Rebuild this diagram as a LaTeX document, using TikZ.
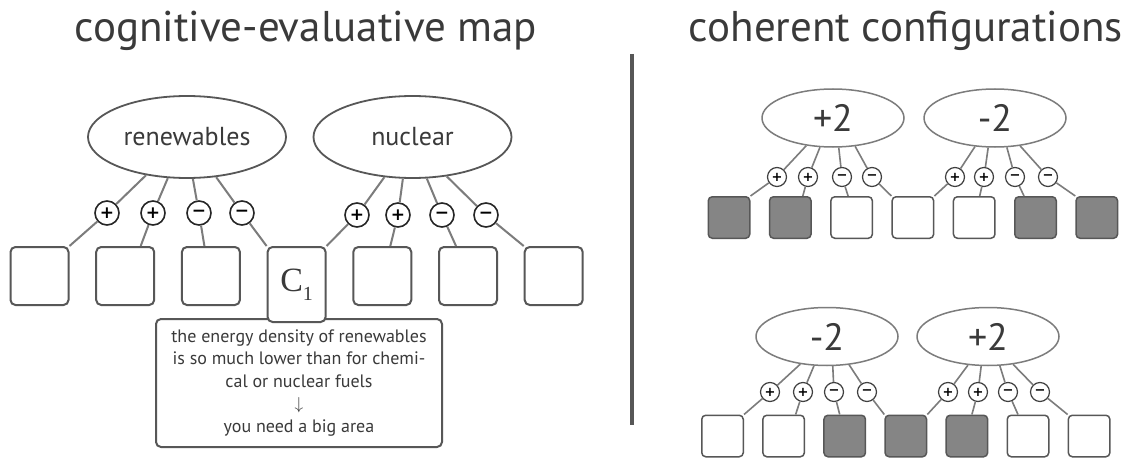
\documentclass[tikz,border=0pt]{standalone}
\usepackage{fontspec}
\setmainfont{PT Sans}
\newfontfamily\signfont{DejaVu Sans}
\newfontfamily\labelfont{Liberation Serif}
\usetikzlibrary{positioning,shapes.geometric}
\definecolor{inkgray}{HTML}{3A3A3A}
\definecolor{edgegray}{HTML}{575757}
\definecolor{linkgray}{HTML}{7C7C7C}
\definecolor{fillgray}{HTML}{858585}
\tikzstyle{MapTitle}=[text=inkgray, font=\fontsize{43}{47}\selectfont]
\tikzstyle{Divider}=[draw=edgegray, line width=3.5pt]
\tikzstyle{Concept}=[ellipse, draw=edgegray, line width=1.8pt, minimum width=198pt, minimum height=82pt, text=inkgray, font=\fontsize{26}{30}\selectfont]
\tikzstyle{ConfConcept}=[ellipse, draw=linkgray, line width=1.5pt, minimum width=142pt, minimum height=58pt, text=inkgray, font=\fontsize{38}{40}\selectfont]
\tikzstyle{Belief}=[rectangle, rounded corners=5pt, draw=edgegray, fill=white, line width=2pt, minimum width=58pt, minimum height=58pt]
\tikzstyle{SmallBelief}=[rectangle, rounded corners=4pt, draw=edgegray, fill=white, line width=1.5pt, minimum width=41.5pt, minimum height=41.5pt]
\tikzstyle{Active}=[fill=fillgray]
\tikzstyle{Note}=[rectangle, rounded corners=5pt, draw=edgegray, fill=white, line width=2pt, minimum width=286pt, minimum height=128pt, align=center, text=inkgray, font=\fontsize{18}{22.5}\selectfont]
\tikzstyle{Sign}=[circle, draw=black!85, fill=white, line width=1.6pt, minimum size=24pt, inner sep=0pt, font=\signfont\bfseries\fontsize{17}{17}\selectfont]
\tikzstyle{SmallSign}=[circle, draw=black!75, fill=white, line width=1.2pt, minimum size=19pt, inner sep=0pt, font=\signfont\bfseries\fontsize{13}{13}\selectfont]
\tikzstyle{Link}=[draw=linkgray, line width=2pt]
\tikzstyle{SmallLink}=[draw=linkgray, line width=1.6pt]

\begin{document}
\begin{tikzpicture}[x=1pt, y=-1pt]
			\useasboundingbox[fill=white] (0,0) rectangle (1136,460);

			%Titles
			\node[MapTitle]	(mapTitle)	at (306,31)	{cognitive-evaluative map};
			\node[MapTitle]	(confTitle)	at (906,31)	{coherent configurations};

			%Divider
			\coordinate (divTop) at (632,54);
			\coordinate (divBottom) at (632,425);
			\draw[Divider] (divTop) -- (divBottom);

			%Map: concepts
			\node[Concept]	(renew)		at (187,137)	{renewables};
			\node[Concept]	(nuclear)	at (412.5,137)	{nuclear};

			%Map: beliefs
			\node[Belief]	(b1)		at (39.5,276)	{};
			\node[Belief]	(b2)		[right=25.7pt of b1]	{};
			\node[Belief]	(b3)		[right=25.7pt of b2]	{};
			\node[Note]		(note)		at (299,383)	{the energy density of renewables\\is so much lower than for chemi-\\cal or nuclear fuels\\$\downarrow$\\you need a big area};
			\node[Belief, minimum height=75pt, text=inkgray]	(c1)	[right=25.7pt of b3.north east, anchor=north west]	{\labelfont\fontsize{34}{34}\selectfont C\raisebox{-9pt}{\fontsize{20}{20}\selectfont 1}};
			\node[Belief]	(b5)		[right=25.7pt of c1.north east, anchor=north west]	{};
			\node[Belief]	(b6)		[right=25.7pt of b5]	{};
			\node[Belief]	(b7)		[right=25.7pt of b6]	{};

			%Map: signs
			\node[Sign]	(r1)	at (107,213)	{+};
			\node[Sign]	(r2)	at (153,213)	{+};
			\node[Sign]	(r3)	at (199,213)	{−};
			\node[Sign]	(r4)	at (242,213)	{−};
			\node[Sign]	(n1)	at (357,215)	{+};
			\node[Sign]	(n2)	at (398,215)	{+};
			\node[Sign]	(n3)	at (442,215)	{−};
			\node[Sign]	(n4)	at (486,215)	{−};

			%Map: lines
			\draw[Link] (renew.-137) -- (r1) -- (b1.north east);
			\draw[Link] (renew.-115) -- (r2) -- ([xshift=15.5pt]b2.north);
			\draw[Link] (renew.-82) -- (r3) -- ([xshift=-6.5pt]b3.north);
			\draw[Link] (renew.-54) -- (r4) -- (c1.north west);
			\draw[Link] (nuclear.-125) -- (n1) -- (c1.north east);
			\draw[Link] (nuclear.-103) -- (n2) -- ([xshift=8pt]b5.north);
			\draw[Link] (nuclear.-71) -- (n3) -- ([xshift=-12pt]b6.north);
			\draw[Link] (nuclear.-49) -- (n4) -- (b7.north west);

			%Top configuration
			\node[ConfConcept]	(topPlus)	at (833,118)	{+2};
			\node[ConfConcept]	(topMinus)	at (995,118)	{-2};

			\node[SmallBelief, Active]	(t1)	at (729,217.5)	{};
			\node[SmallBelief, Active]	(t2)	[right=18.3pt of t1]	{};
			\node[SmallBelief]			(t3)	[right=18.3pt of t2]	{};
			\node[SmallBelief]			(t4)	[right=18.3pt of t3]	{};
			\node[SmallBelief]			(t5)	[right=18.3pt of t4]	{};
			\node[SmallBelief, Active]	(t6)	[right=18.3pt of t5]	{};
			\node[SmallBelief, Active]	(t7)	[right=18.3pt of t6]	{};

			\node[SmallSign]	(tp1)	at (777,177)	{+};
			\node[SmallSign]	(tp2)	at (808,177)	{+};
			\node[SmallSign]	(tp3)	at (842,177)	{−};
			\node[SmallSign]	(tp4)	at (872,177)	{−};
			\node[SmallSign]	(tm1)	at (955,177)	{+};
			\node[SmallSign]	(tm2)	at (984,177)	{+};
			\node[SmallSign]	(tm3)	at (1015,177)	{−};
			\node[SmallSign]	(tm4)	at (1048,177)	{−};

			\draw[SmallLink] (topPlus.-134) -- (tp1) -- (t1.north east);
			\draw[SmallLink] (topPlus.-114) -- (tp2) -- ([xshift=12.5pt]t2.north);
			\draw[SmallLink] (topPlus.-79) -- (tp3) -- ([xshift=-3.5pt]t3.north);
			\draw[SmallLink] (topPlus.-52) -- (tp4) -- (t4.north west);
			\draw[SmallLink] (topMinus.-125) -- (tm1) -- (t4.north east);
			\draw[SmallLink] (topMinus.-103) -- (tm2) -- ([xshift=5.5pt]t5.north);
			\draw[SmallLink] (topMinus.-68) -- (tm3) -- ([xshift=-11.5pt]t6.north);
			\draw[SmallLink] (topMinus.-48) -- (tm4) -- (t7.north west);

			%Bottom configuration
			\node[ConfConcept]	(botMinus)	at (827,336.5)	{-2};
			\node[ConfConcept]	(botPlus)	at (988,336.5)	{+2};

			\node[SmallBelief]			(u1)	at (722.5,436)	{};
			\node[SmallBelief]			(u2)	[right=18.1pt of u1]	{};
			\node[SmallBelief, Active]	(u3)	[right=18.1pt of u2]	{};
			\node[SmallBelief, Active]	(u4)	[right=18.1pt of u3]	{};
			\node[SmallBelief, Active]	(u5)	[right=18.1pt of u4]	{};
			\node[SmallBelief]			(u6)	[right=18.1pt of u5]	{};
			\node[SmallBelief]			(u7)	[right=18.1pt of u6]	{};

			\node[SmallSign]	(bm1)	at (770,392)	{+};
			\node[SmallSign]	(bm2)	at (803,392)	{+};
			\node[SmallSign]	(bm3)	at (834,392)	{−};
			\node[SmallSign]	(bm4)	at (867,392)	{−};
			\node[SmallSign]	(bp1)	at (948,392)	{+};
			\node[SmallSign]	(bp2)	at (978,392)	{+};
			\node[SmallSign]	(bp3)	at (1008,392)	{−};
			\node[SmallSign]	(bp4)	at (1040,392)	{−};

			\draw[SmallLink] (botMinus.-134) -- (bm1) -- (u1.north east);
			\draw[SmallLink] (botMinus.-114) -- (bm2) -- ([xshift=12pt]u2.north);
			\draw[SmallLink] (botMinus.-79) -- (bm3) -- ([xshift=-5pt]u3.north);
			\draw[SmallLink] (botMinus.-52) -- (bm4) -- (u4.north west);
			\draw[SmallLink] (botPlus.-125) -- (bp1) -- (u4.north east);
			\draw[SmallLink] (botPlus.-103) -- (bp2) -- ([xshift=5pt]u5.north);
			\draw[SmallLink] (botPlus.-68) -- (bp3) -- ([xshift=-10pt]u6.north);
			\draw[SmallLink] (botPlus.-48) -- (bp4) -- (u7.north west);

		\end{tikzpicture}
\end{document}
